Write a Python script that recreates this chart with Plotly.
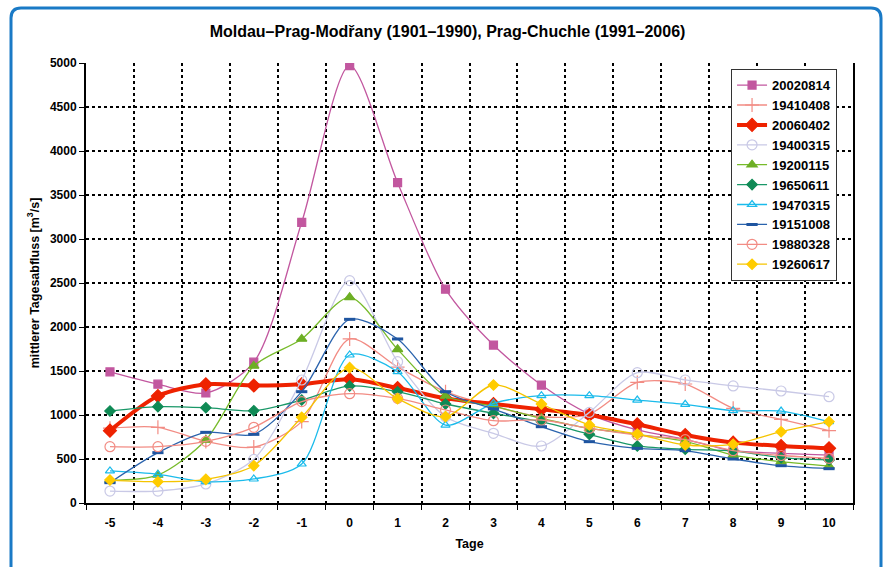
import plotly.graph_objects as go

days = [-5, -4, -3, -2, -1, 0, 1, 2, 3, 4, 5, 6, 7, 8, 9, 10]

s20020814 = [1490, 1350, 1250, 1600, 3190, 4970, 3640, 2430, 1795, 1340, 1010, 830, 724, 594, 565, 545]
s19410408 = [850, 860, 700, 635, 925, 1865, 1545, 1265, 1100, 980, 1010, 1370, 1352, 1076, 951, 822]
s20060402 = [822, 1216, 1349, 1335, 1349, 1405, 1307, 1189, 1125, 1064, 1000, 894, 773, 686, 648, 621]
s19400315 = [136, 136, 216, 496, 1398, 2527, 1606, 980, 792, 648, 1030, 1481, 1398, 1330, 1273, 1208]
s19200115 = [260, 318, 716, 1557, 1864, 2337, 1746, 1216, 1100, 962, 848, 780, 700, 545, 470, 420]
s19650611 = [1045, 1095, 1083, 1049, 1170, 1330, 1265, 1125, 1019, 924, 780, 648, 610, 594, 515, 489]
s19470315 = [364, 326, 242, 273, 443, 1682, 1492, 886, 1133, 1220, 1220, 1170, 1121, 1049, 1045, 924]
s19151008 = [231, 572, 803, 780, 1265, 2087, 1864, 1265, 1070, 867, 697, 621, 595, 500, 424, 390]
s19880328 = [640, 640, 700, 860, 1152, 1242, 1189, 1057, 935, 943, 848, 773, 720, 595, 540, 508]
s19260617 = [261, 242, 269, 424, 974, 1538, 1186, 981, 1341, 1125, 886, 784, 659, 667, 810, 924]

y_ticks = [0, 500, 1000, 1500, 2000, 2500, 3000, 3500, 4000, 4500, 5000]

FONT = "Liberation Sans, Arial, sans-serif"

series = [
    ("20020814", s20020814, "#C2579F", 1.3, "square", 8, "#C2579F"),
    ("19410408", s19410408, "#F28C84", 1.3, "cross-thin-open", 10, "#F28C84"),
    ("20060402", s20060402, "#EE2200", 4, "diamond", 10, "#EE2200"),
    ("19400315", s19400315, "#C9C9E6", 1.3, "circle-open", 10, "#C9C9E6"),
    ("19200115", s19200115, "#77BB2A", 1.3, "triangle-up", 9, "#6DAF25"),
    ("19650611", s19650611, "#1A9868", 1.3, "diamond", 8, "#0F8A55"),
    ("19470315", s19470315, "#1BBBEB", 1.3, "triangle-up-open", 8, "#1BBBEB"),
    ("19151008", s19151008, "#2A63AD", 1.3, "line-ew-open", 8, "#1F55A0"),
    ("19880328", s19880328, "#F28C84", 1.3, "circle-open", 10, "#F28C84"),
    ("19260617", s19260617, "#F5C400", 1.3, "diamond", 8, "#FFCC00"),
]

fig = go.Figure()
for name, vals, col, lw, sym, ms, mcol in series:
    mline = dict(width=1.2, color=mcol)
    if sym == "line-ew-open":
        mline = dict(width=3, color=mcol)
    fig.add_trace(go.Scatter(
        x=days, y=vals, name=name, mode="lines+markers",
        line=dict(color=col, width=lw, shape="spline", smoothing=0.8),
        marker=dict(symbol=sym, size=ms, color=mcol, line=mline),
    ))

axfont = dict(family=FONT, size=12, color="black", weight="bold")
titlefont = dict(family=FONT, size=12.5, color="black", weight="bold")

fig.update_layout(
    width=883, height=567,
    paper_bgcolor="white", plot_bgcolor="white",
    margin=dict(l=86, r=30, t=63, b=64),
    title=dict(text="Moldau–Prag-Modřany (1901–1990), Prag-Chuchle (1991–2006)",
               x=447.5 / 883, xref="container", xanchor="center",
               y=0.945, yanchor="middle",
               font=dict(family=FONT, size=16, color="black", weight="bold")),
    showlegend=True,
    legend=dict(x=0.841, y=0.986, xanchor="left", yanchor="top",
                bgcolor="white", bordercolor="#333333", borderwidth=1,
                font=dict(family=FONT, size=13, color="black", weight="bold"),
                tracegroupgap=0, itemwidth=30),
    font=dict(family=FONT),
)

fig.update_xaxes(
    range=[-5.5, 10.5], tickmode="array", tickvals=days,
    ticktext=[str(d) for d in days], tickfont=axfont,
    showgrid=False, zeroline=False, automargin=False,
    showline=True, linecolor="black", linewidth=2,
    ticks="", ticklabelstandoff=8,
    minor=dict(tick0=-5.5, dtick=1, showgrid=True, gridcolor="black",
               gridwidth=2, griddash="3px,3px", ticks="outside", ticklen=5,
               tickcolor="black", tickwidth=1),
    title=dict(text="Tage", font=titlefont, standoff=10),
)
fig.update_yaxes(
    range=[0, 5000], tickmode="array", tickvals=y_ticks, tickfont=axfont,
    showgrid=True, gridcolor="black", gridwidth=2, griddash="3px,3px",
    zeroline=False, showline=True, linecolor="black", linewidth=2,
    mirror=True, automargin=False,
    ticks="outside", ticklen=5, tickcolor="black", tickwidth=1,
    title=dict(text="mittlerer Tagesabfluss [m<sup>3</sup>/s]",
               font=titlefont, standoff=8),
)

# outer rounded blue frame (pixel -> paper conversion)
def px(x):
    return (x - 86) / 767.0

def py(y):
    return (503 - y) / 440.0

r = 10
path = (f"M {px(11)},{py(575)} L {px(11)},{py(8 + r)} "
        f"Q {px(11)},{py(8)} {px(11 + r)},{py(8)} "
        f"L {px(881 - r)},{py(8)} Q {px(881)},{py(8)} {px(881)},{py(8 + r)} "
        f"L {px(881)},{py(575)}")
fig.add_shape(type="path", path=path, xref="paper", yref="paper",
              line=dict(color="#1A7AC6", width=3), layer="below")

fig.write_html("out.html", config={"displayModeBar": False},
               post_script="document.body.style.margin='0';document.body.style.overflow='hidden';")
